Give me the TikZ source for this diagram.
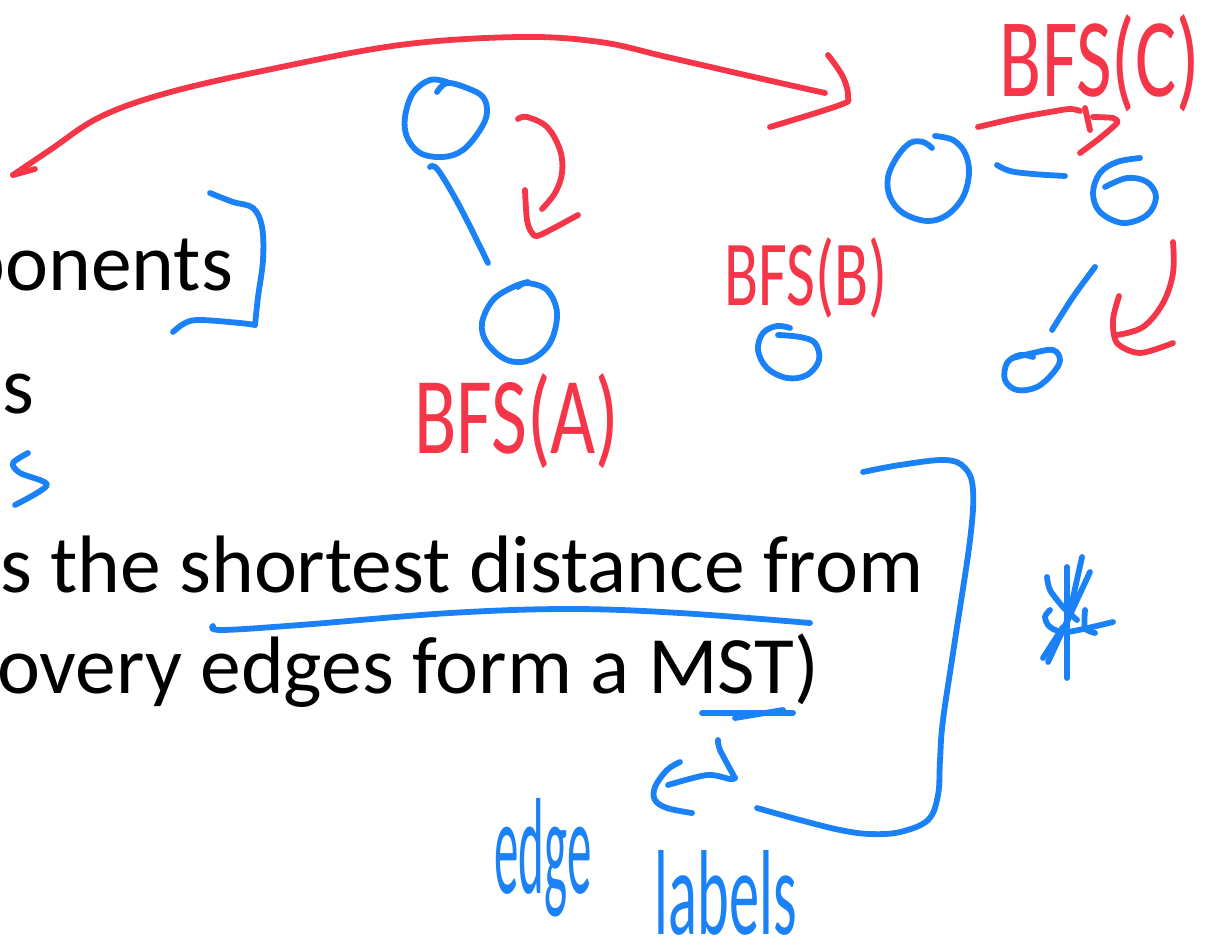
\documentclass[tikz,border=0pt]{standalone}
\usepackage{fontspec}
\setmainfont{Carlito}
\newfontfamily\handfont{Carlito}
\definecolor{inkred}{RGB}{244,54,72}
\definecolor{inkblue}{RGB}{27,129,247}
\begin{document}
\begin{tikzpicture}[x=1pt,y=-1pt,
  redink/.style={draw=inkred,line width=5.8pt,line cap=round,line join=round},
  blueink/.style={draw=inkblue,line width=5.8pt,line cap=round,line join=round},
  body/.style={inner sep=0pt,outer sep=0pt,font=\fontsize{81.5}{96}\selectfont},
  redlabel/.style={inner sep=0pt,outer sep=0pt,text=inkred,font=\handfont},
  bluelabel/.style={inner sep=0pt,outer sep=0pt,text=inkblue,font=\handfont}]
\useasboundingbox (0,0) rectangle (1206,944);
\clip (0,0) rectangle (1206,944);
\fill[white] (0,0) rectangle (1206,944);

% slide text
\node[body,anchor=base east] (t1) at (233,290) {ponents};
\node[body,anchor=base west] (t2) at (2,413) {s};
\node[body,anchor=base west] (t3) at (0,592) {s the shortest distance from};
\node[body,anchor=base east] (t4) at (819,693) {overy edges form a MST)};

% big red arc arrow
\draw[redink] (35,169) -- (13,175);
\draw[redink] plot[smooth,tension=0.6] coordinates {(13,175) (50,150) (100,117) (167,93) (267,70) (400,45) (520,37) (600,42) (667,57) (767,80) (825,93)};
\draw[redink] plot[smooth,tension=0.6] coordinates {(828,55) (843,77) (848,97) (840,105) (770,127)};

% graph A
\draw[blueink] plot[smooth,tension=0.6] coordinates {(437,92) (447,83) (467,88) (483,97) (487,113) (480,130) (463,150) (443,157) (420,153) (407,137) (405,117) (413,93) (430,80) (447,82)};
\draw[blueink] plot[smooth,tension=0.6] coordinates {(430,167) (438,170) (460,207) (488,263)};
\draw[blueink] plot[smooth,tension=0.6] coordinates {(528,282) (513,287) (493,300) (482,323) (487,343) (507,360) (530,360) (550,343) (557,313) (547,290) (527,283) (518,287)};
\draw[redink] plot[smooth,tension=0.6] coordinates {(518,119) (527,117) (547,127) (560,150) (562,173) (555,193) (542,209)};
\draw[redink] plot[smooth,tension=0.5] coordinates {(525,190) (527,220) (532,233) (540,235) (578,215)};
\node[redlabel] (bfsa) at (517,421) {\resizebox{205pt}{80pt}{BFS(A)}};

% graph B
\draw[blueink] plot[smooth,tension=0.6] coordinates {(790,328) (777,326) (763,333) (758,350) (767,368) (787,378) (807,375) (819,360) (815,343) (800,337) (778,335)};
\node[redlabel] (bfsb) at (806,278) {\resizebox{163pt}{68pt}{BFS(B)}};

% graph C
\draw[blueink] plot[smooth,tension=0.6] coordinates {(932,148) (923,142) (910,143) (897,157) (888,177) (890,197) (903,213) (927,221) (947,215) (963,197) (969,173) (965,153) (953,140) (935,136)};
\draw[blueink] plot[smooth,tension=0.6] coordinates {(997,165) (1010,171) (1033,174) (1065,176)};
\draw[blueink] plot[smooth,tension=0.6] coordinates {(1140,158) (1117,162) (1100,173) (1093,193) (1100,212) (1123,223) (1147,215) (1156,197) (1147,182) (1127,178) (1105,187)};
\draw[blueink] plot[smooth,tension=0.6] coordinates {(1095,267) (1073,297) (1052,330)};
\draw[blueink] plot[smooth,tension=0.6] coordinates {(1013,358) (1033,353) (1053,350) (1060,360) (1053,373) (1037,387) (1017,390) (1005,380) (1007,363) (1020,355) (1033,357)};
\draw[redink] plot[smooth,tension=0.6] coordinates {(978,127) (1017,118) (1050,112) (1070,109) (1080,111)};
\draw[redink] (1085,108) -- (1090,130);
\draw[redink] plot[smooth,tension=0.4] coordinates {(1080,153) (1100,138) (1117,123) (1113,118) (1093,117)};
\draw[redink] plot[smooth,tension=0.6] coordinates {(1173,242) (1173,273) (1163,303) (1143,327) (1117,335)};
\draw[redink] plot[smooth,tension=0.5] coordinates {(1119,296) (1113,320) (1117,343) (1140,353) (1173,343)};
\node[redlabel] (bfsc) at (1100,63) {\resizebox{200pt}{82pt}{BFS(C)}};

% bracket next to "ponents"
\draw[blueink] plot[smooth,tension=0.6] coordinates {(210,193) (233,202) (253,208) (262,227) (263,260) (258,297) (255,325)};
\draw[blueink] plot[smooth,tension=0.6] coordinates {(255,325) (240,323) (200,320) (185,323) (173,332)};
% small squiggle
\draw[blueink] plot[smooth,tension=0.5] coordinates {(28,453) (13,463) (20,473) (47,485) (15,505)};

% underlines
\draw[blueink] plot[smooth,tension=0.6] coordinates {(213,626) (222,630) (300,625) (450,613) (570,609) (680,613) (810,623)};
\draw[blueink] (702,713) -- (793,713);
\draw[blueink] (735,718) -- (783,710);

% arrow from MST to edge labels
\draw[blueink] plot[smooth,tension=0.5] coordinates {(718,740) (720,750) (735,778)};
\draw[blueink] plot[smooth,tension=0.5] coordinates {(735,778) (730,779) (707,775) (668,785)};
\draw[blueink] plot[smooth,tension=0.6] coordinates {(680,762) (667,770) (655,787) (655,800) (667,808) (692,813)};
\draw[blueink] plot[smooth,tension=0.6] coordinates {(757,808) (800,820) (840,830) (870,834) (900,832) (928,820) (938,795) (940,760) (943,720) (955,640) (970,540) (973,490) (965,468) (945,460) (900,465) (863,472)};
\node[bluelabel] (edge) at (543,858) {\resizebox{97pt}{95pt}{edge}};
\node[bluelabel] (labels) at (726,893) {\resizebox{142pt}{84pt}{labels}};

% asterisk scribble
\draw[blueink] (1067,567) -- (1067,678);
\draw[blueink] (1082,557) -- (1068,620);
\draw[blueink] (1090,572) -- (1048,662);
\draw[blueink] plot[smooth,tension=0.5] coordinates {(1047,577) (1050,590) (1063,607) (1077,620)};
\draw[blueink] plot[smooth,tension=0.5] coordinates {(1050,610) (1045,617) (1050,627) (1067,632) (1113,622)};
\draw[blueink] plot[smooth,tension=0.5] coordinates {(1085,610) (1085,628) (1095,633)};
\draw[blueink] (1063,627) -- (1043,658);
\end{tikzpicture}
\end{document}
